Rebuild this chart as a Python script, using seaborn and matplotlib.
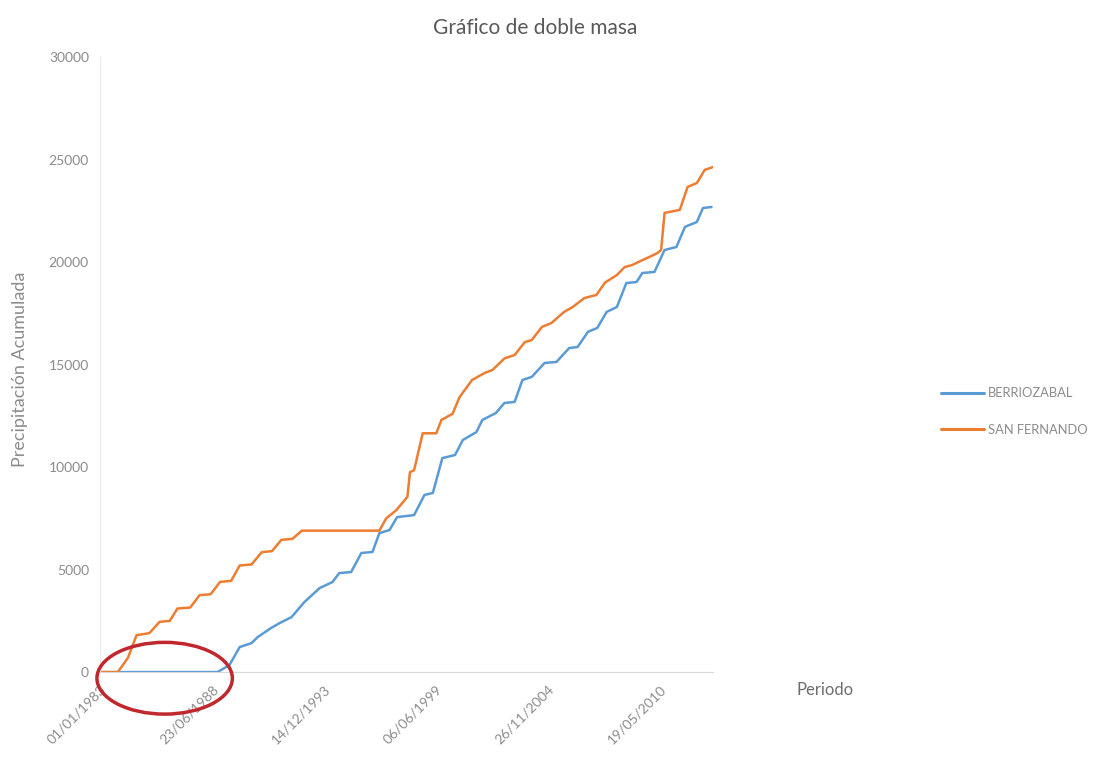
import numpy as np
import pandas as pd
import matplotlib
matplotlib.use("Agg")
import matplotlib.pyplot as plt
import matplotlib.dates as mdates
from matplotlib.patches import Ellipse
import seaborn as sns

# ---- data ----
berriozabal_dates = [
    "1983-01-01", "1988-10-01", "1989-05-01", "1989-11-01", "1990-06-01", "1990-09-15",
    "1991-05-15", "1991-10-15", "1992-05-15", "1993-01-01", "1993-10-01", "1994-05-15",
    "1994-09-15", "1995-04-15", "1995-10-15", "1996-05-01", "1996-09-01", "1997-03-01",
    "1997-07-15", "1998-05-15", "1998-11-15", "1999-04-15", "1999-10-01", "2000-05-15",
    "2000-10-01", "2001-06-01", "2001-09-15", "2002-05-15", "2002-10-15", "2003-04-15",
    "2003-09-01", "2004-02-15", "2004-10-01", "2005-05-01", "2005-12-15", "2006-05-15",
    "2006-11-15", "2007-05-01", "2007-10-15", "2008-04-15", "2008-10-01", "2009-04-01",
    "2009-07-15", "2010-02-15", "2010-08-15", "2011-03-15", "2011-08-15", "2012-03-15",
    "2012-07-01", "2012-12-01",
]
berriozabal_values = [
    0, 0, 340, 1220, 1415, 1700,
    2150, 2390, 2680, 3420, 4100, 4390,
    4830, 4880, 5810, 5860, 6780, 6930,
    7560, 7660, 8640, 8740, 10440, 10590,
    11320, 11710, 12300, 12640, 13130, 13180,
    14250, 14400, 15080, 15130, 15810, 15860,
    16600, 16790, 17570, 17810, 18980, 19030,
    19470, 19520, 20590, 20740, 21720, 21960,
    22640, 22690,
]

san_fernando_dates = [
    "1983-01-01", "1983-11-15", "1984-05-15", "1984-10-15", "1985-06-01", "1985-12-01",
    "1986-06-01", "1986-10-15", "1987-06-01", "1987-11-15", "1988-06-01", "1988-11-15",
    "1989-06-01", "1989-11-01", "1990-06-01", "1990-12-01", "1991-06-01", "1991-11-15",
    "1992-06-01", "1992-11-15", "1996-09-01", "1997-01-01", "1997-07-01", "1997-12-01",
    "1998-01-15", "1998-03-01", "1998-05-15", "1998-10-15", "1999-06-15", "1999-09-15",
    "2000-04-01", "2000-08-01", "2001-03-15", "2001-11-01", "2002-03-15", "2002-10-15",
    "2003-04-15", "2003-10-15", "2004-02-15", "2004-08-15", "2005-02-01", "2005-09-15",
    "2006-02-15", "2006-09-15", "2007-04-15", "2007-09-15", "2008-04-15", "2008-09-01",
    "2009-01-15", "2009-07-15", "2009-11-15", "2010-04-15", "2010-06-15", "2010-08-15",
    "2011-05-15", "2011-10-01", "2012-03-15", "2012-08-01", "2012-12-31",
]
san_fernando_values = [
    0, 0, 700, 1800, 1900, 2450,
    2500, 3100, 3150, 3750, 3800, 4400,
    4450, 5200, 5250, 5850, 5900, 6450,
    6500, 6900, 6900, 7500, 7900, 8400,
    8550, 9750, 9850, 11650, 11650, 12300,
    12600, 13400, 14250, 14600, 14740, 15300,
    15470, 16100, 16200, 16840, 17030, 17570,
    17810, 18250, 18400, 19000, 19370, 19760,
    19860, 20100, 20250, 20450, 20600, 22400,
    22550, 23670, 23860, 24500, 24640,
]

series_names = ["BERRIOZABAL", "SAN FERNANDO"]
series_colors = ["#5B9BD5", "#ED7D31"]
x_tick_labels = ["01/01/1983", "23/06/1988", "14/12/1993", "06/06/1999", "26/11/2004", "19/05/2010"]
y_ticks = [0, 5000, 10000, 15000, 20000, 25000, 30000]

df = pd.concat([
    pd.DataFrame({"Fecha": pd.to_datetime(berriozabal_dates), "Valor": berriozabal_values,
                  "Estación": series_names[0]}),
    pd.DataFrame({"Fecha": pd.to_datetime(san_fernando_dates), "Valor": san_fernando_values,
                  "Estación": series_names[1]}),
], ignore_index=True)

sns.set_theme(style="white")
plt.rcParams["font.family"] = ["Lato", "DejaVu Sans"]

grey = "#8c8c8c"
fig = plt.figure(figsize=(10.93, 7.62), dpi=100)
ax = fig.add_axes([0.0915, 0.118, 0.561, 0.807])

sns.lineplot(data=df, x="Fecha", y="Valor", hue="Estación", hue_order=series_names,
             palette=series_colors, linewidth=1.8, ax=ax, legend=False,
             estimator=None, sort=False)

ax.set_xlim(pd.Timestamp("1983-01-01"), pd.Timestamp("2012-12-31"))
ax.set_ylim(0, 30000)
ax.set_yticks(y_ticks)
ax.set_yticklabels([str(v) for v in y_ticks], color=grey, fontsize=10)
xt = pd.to_datetime(x_tick_labels, format="%d/%m/%Y")
ax.set_xticks(xt)
ax.set_xticklabels(x_tick_labels, rotation=45, ha="right", rotation_mode="anchor",
                   color=grey, fontsize=10)
ax.tick_params(axis="both", length=0, pad=8)
ax.set_xlabel("")
ax.set_ylabel("")

for side in ["top", "right"]:
    ax.spines[side].set_visible(False)
ax.spines["left"].set_color("#ececec")
ax.spines["bottom"].set_color("#d9d9d9")
ax.spines["left"].set_linewidth(0.8)
ax.spines["bottom"].set_linewidth(0.8)

fig.text(0.49, 0.963, "Gráfico de doble masa", ha="center", va="center",
         fontsize=15, color="#595959")
fig.text(0.018, 0.515, "Precipitación Acumulada", rotation=90, ha="center", va="center",
         fontsize=13, color=grey)
fig.text(0.755, 0.095, "Periodo", ha="center", va="center", fontsize=12, color="#6e6e6e")

handles = [plt.Line2D([], [], color=c, lw=2.2) for c in series_colors]
fig.legend(handles, series_names, loc="center left", bbox_to_anchor=(0.861, 0.46),
           frameon=False, fontsize=9.3, labelcolor=grey, handlelength=3.3,
           handletextpad=0.3, labelspacing=1.9, borderaxespad=0, borderpad=0)

# hand-drawn red ellipse annotation around the zero segment
cx = mdates.date2num(pd.Timestamp("1986-03-01"))
ell = Ellipse((cx, -300), width=2420, height=3500, fill=False,
              edgecolor="#C0282E", linewidth=2.5, clip_on=False, zorder=5)
ax.add_patch(ell)

fig.savefig("out.png", dpi=100)
